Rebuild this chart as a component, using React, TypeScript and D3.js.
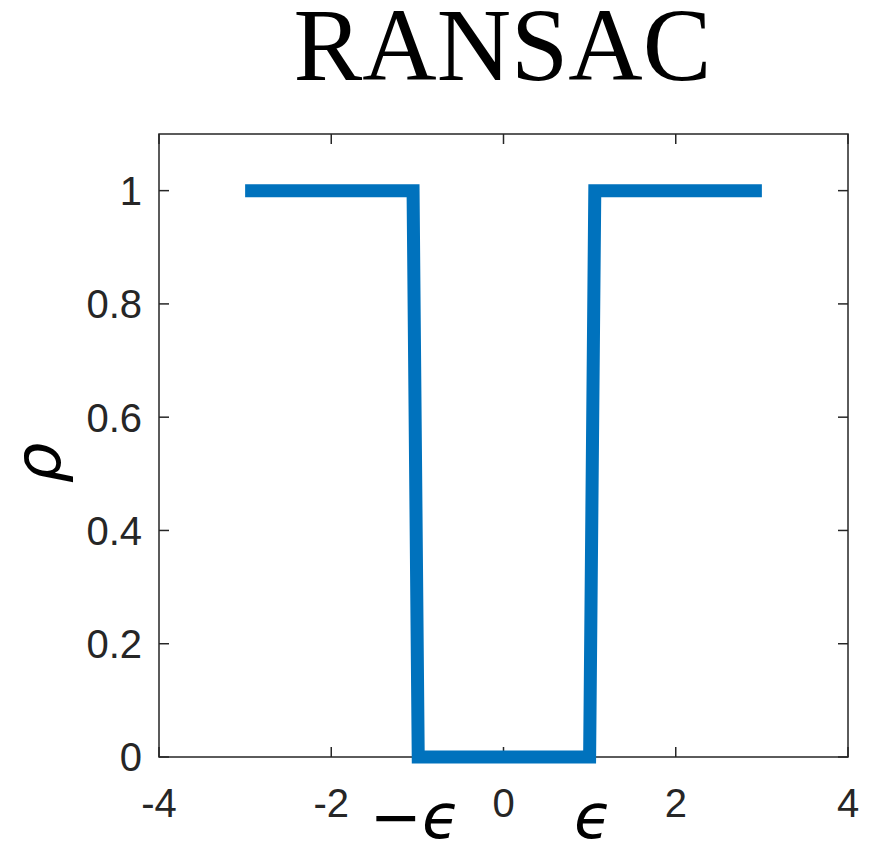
import { useEffect, useRef } from 'react';
import * as d3 from 'd3';

// loss curve samples (residual, rho)
const residuals = [-3, -1.05, -0.99, 1.0, 1.06, 3];
const rhoValues = [1, 1, 0, 0, 1, 1];
const xTicks = [-4, -2, 0, 2, 4];
const yTicks = [0, 0.2, 0.4, 0.6, 0.8, 1];
const titleText = 'RANSAC';

const App = () => {
  const svgRef = useRef<SVGSVGElement>(null);

  useEffect(() => {
    const W = 874;
    const H = 842;
    const svg = d3.select(svgRef.current).attr('width', W).attr('height', H);
    svg.selectAll('*').remove();

    const margin = { top: 134, right: 26, bottom: 85, left: 159 };
    const width = W - margin.left - margin.right;
    const height = H - margin.top - margin.bottom;
    const axisColor = '#262626';
    const tickFont = '"Liberation Sans", Arial, sans-serif';

    const x = d3.scaleLinear().domain([-4, 4]).range([0, width]);
    const y = d3.scaleLinear().domain([0, 1.1]).range([height, 0]);

    svg
      .append('text')
      .attr('x', margin.left + width / 2 - 1)
      .attr('y', 80)
      .attr('text-anchor', 'middle')
      .attr('font-family', '"Liberation Serif", "Times New Roman", serif')
      .attr('font-size', 103)
      .attr('fill', '#000')
      .text(titleText);

    const g = svg.append('g').attr('transform', `translate(${margin.left},${margin.top})`);

    // ticks pointing inward, on all four sides
    const tickLen = 10;
    xTicks.forEach((t) => {
      g.append('line')
        .attr('x1', x(t)).attr('x2', x(t))
        .attr('y1', height).attr('y2', height - tickLen)
        .attr('stroke', axisColor).attr('stroke-width', 1.5);
      g.append('line')
        .attr('x1', x(t)).attr('x2', x(t))
        .attr('y1', 0).attr('y2', tickLen)
        .attr('stroke', axisColor).attr('stroke-width', 1.5);
      g.append('text')
        .attr('x', x(t))
        .attr('y', height + 60)
        .attr('text-anchor', 'middle')
        .attr('font-family', tickFont)
        .attr('font-size', 40)
        .attr('fill', axisColor)
        .text(String(t));
    });

    yTicks.forEach((t) => {
      g.append('line')
        .attr('x1', 0).attr('x2', tickLen)
        .attr('y1', y(t)).attr('y2', y(t))
        .attr('stroke', axisColor).attr('stroke-width', 1.5);
      g.append('line')
        .attr('x1', width).attr('x2', width - tickLen)
        .attr('y1', y(t)).attr('y2', y(t))
        .attr('stroke', axisColor).attr('stroke-width', 1.5);
      g.append('text')
        .attr('x', -17)
        .attr('y', y(t))
        .attr('dy', '0.36em')
        .attr('text-anchor', 'end')
        .attr('font-family', tickFont)
        .attr('font-size', 40)
        .attr('fill', axisColor)
        .text(String(t));
    });

    g.append('rect')
      .attr('x', 0).attr('y', 0)
      .attr('width', width).attr('height', height)
      .attr('fill', 'none')
      .attr('stroke', axisColor)
      .attr('stroke-width', 1.5);

    const pts: [number, number][] = residuals.map((r, i) => [r, rhoValues[i]]);
    const line = d3
      .line<[number, number]>()
      .x((d) => x(d[0]))
      .y((d) => y(d[1]));

    g.append('path')
      .datum(pts)
      .attr('d', line)
      .attr('fill', 'none')
      .attr('stroke', '#0072BD')
      .attr('stroke-width', 13)
      .attr('stroke-linejoin', 'miter')
      .attr('stroke-linecap', 'butt');

    // annotations
    const mathFont = '"DejaVu Sans", sans-serif';
    svg
      .append('text')
      .attr('x', 370)
      .attr('y', 838)
      .attr('font-family', mathFont)
      .attr('font-style', 'italic')
      .attr('font-size', 62)
      .attr('fill', '#000')
      .text('−ϵ');
    svg
      .append('text')
      .attr('x', 574)
      .attr('y', 838)
      .attr('font-family', mathFont)
      .attr('font-style', 'italic')
      .attr('font-size', 62)
      .attr('fill', '#000')
      .text('ϵ');
    svg
      .append('text')
      .attr('transform', 'translate(60,463) rotate(-90)')
      .attr('text-anchor', 'middle')
      .attr('font-family', mathFont)
      .attr('font-style', 'italic')
      .attr('font-size', 64)
      .attr('fill', '#000')
      .text('ρ');
  }, []);

  return (
    <svg
      ref={svgRef}
      style={{ position: 'absolute', left: 0, top: 0, background: '#fff' }}
    ></svg>
  );
};

export default App;
